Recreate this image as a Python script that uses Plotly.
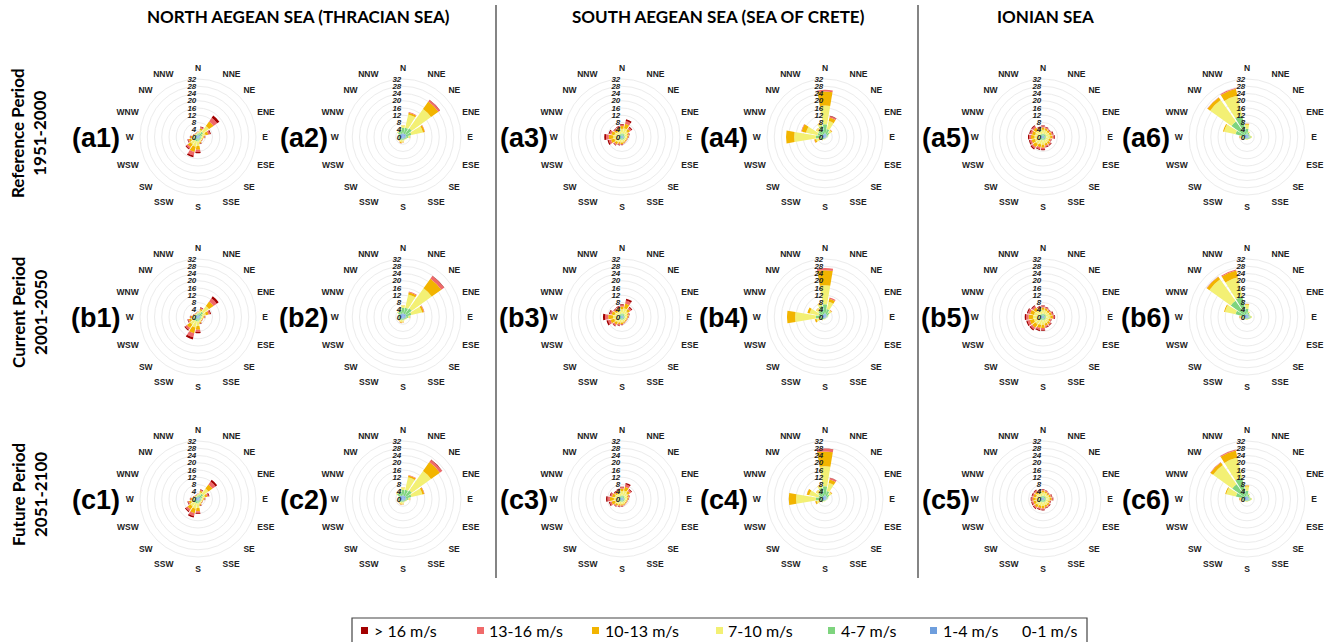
import plotly.graph_objects as go

# ---------------- data ----------------
directions = ["N", "NNE", "NE", "ENE", "E", "ESE", "SE", "SSE",
              "S", "SSW", "SW", "WSW", "W", "WNW", "NW", "NNW"]
speed_classes = ["1-4 m/s", "4-7 m/s", "7-10 m/s", "10-13 m/s", "13-16 m/s", "> 16 m/s"]
class_colors = ["#6e9edd", "#7ed47e", "#f3f074", "#f2b400", "#f06a6a", "#a30000"]
radial_ticks = [0, 4, 8, 12, 16, 20, 24, 28, 32]
regions = ["NORTH AEGEAN SEA (THRACIAN SEA)", "SOUTH AEGEAN SEA (SEA OF CRETE)", "IONIAN SEA"]
periods = ["Reference Period<br>1951-2000", "Current Period<br>2001-2050", "Future Period<br>2051-2100"]
legend_labels = ["> 16 m/s", "13-16 m/s", "10-13 m/s", "7-10 m/s", "4-7 m/s", "1-4 m/s", "0-1 m/s"]
legend_colors = ["#a30000", "#f06a6a", "#f2b400", "#f3f074", "#7ed47e", "#6e9edd", None]

# frequency (%) per direction (rows N..NNW), columns: 1-4, 4-7, 7-10, 10-13, 13-16, >16 m/s
a1 = [[1.0, 1.0, 0.6, 0.2, 0.1, 0.1], [1.0, 1.2, 1.8, 1.0, 0.6, 0.4], [1.5, 2.0, 4.0, 3.0, 2.5, 1.5],
      [1.0, 1.3, 2.0, 1.5, 1.0, 0.5], [1.0, 1.0, 1.0, 0.5, 0.3, 0.2], [0.9, 0.9, 0.7, 0.3, 0.1, 0.1],
      [0.9, 0.9, 0.7, 0.3, 0.1, 0.1], [1.0, 1.0, 1.0, 0.5, 0.3, 0.2], [1.0, 1.5, 2.5, 2.0, 1.3, 0.7],
      [1.0, 1.5, 3.0, 3.0, 2.0, 1.0], [1.0, 1.5, 2.5, 2.0, 1.0, 0.5], [1.0, 1.2, 1.8, 1.2, 0.5, 0.3],
      [1.0, 1.0, 1.2, 0.7, 0.4, 0.2], [0.9, 0.9, 0.7, 0.3, 0.1, 0.1], [0.8, 0.8, 0.5, 0.2, 0.1, 0.1],
      [0.8, 0.8, 0.5, 0.2, 0.1, 0.1]]
a2 = [[2.0, 3.0, 1.2, 0.2, 0.0, 0.0], [1.8, 3.5, 7.5, 1.0, 0.3, 0.0], [2.0, 4.0, 13.0, 5.0, 1.0, 0.2],
      [1.8, 3.0, 6.5, 1.0, 0.2, 0.0], [1.5, 1.5, 0.8, 0.2, 0.0, 0.0], [1.2, 0.8, 0.3, 0.0, 0.0, 0.0],
      [1.0, 0.6, 0.2, 0.0, 0.0, 0.0], [1.0, 0.6, 0.3, 0.1, 0.0, 0.0], [1.0, 0.8, 0.8, 0.4, 0.1, 0.0],
      [1.0, 0.8, 1.2, 0.6, 0.2, 0.0], [1.2, 0.8, 0.8, 0.3, 0.1, 0.0], [1.2, 0.8, 0.4, 0.1, 0.0, 0.0],
      [1.5, 0.8, 0.3, 0.0, 0.0, 0.0], [1.5, 1.0, 0.3, 0.0, 0.0, 0.0], [2.0, 1.5, 0.5, 0.1, 0.0, 0.0],
      [2.0, 2.0, 0.8, 0.1, 0.0, 0.0]]
a3 = [[0.8, 1.2, 2.5, 1.5, 0.8, 0.4], [0.8, 1.2, 3.0, 2.5, 1.5, 1.0], [0.8, 1.0, 2.2, 1.5, 1.0, 0.5],
      [0.8, 0.8, 1.5, 0.8, 0.4, 0.2], [0.8, 0.8, 1.2, 0.6, 0.3, 0.1], [0.8, 0.8, 1.0, 0.4, 0.2, 0.1],
      [0.8, 0.8, 1.0, 0.5, 0.2, 0.1], [0.8, 0.8, 1.2, 0.6, 0.3, 0.1], [0.8, 0.8, 1.5, 0.8, 0.4, 0.2],
      [0.8, 0.8, 1.5, 1.0, 0.5, 0.2], [0.8, 1.0, 2.0, 1.2, 0.6, 0.3], [0.8, 1.0, 2.5, 2.0, 1.2, 0.7],
      [0.8, 1.0, 3.0, 2.5, 1.5, 1.0], [0.8, 1.0, 2.5, 1.8, 1.0, 0.5], [0.8, 1.0, 2.0, 1.2, 0.6, 0.3],
      [0.8, 1.0, 2.0, 1.3, 0.7, 0.4]]
a4 = [[2.0, 5.0, 10.4, 7.7, 0.9, 0.0], [1.5, 3.0, 4.5, 2.0, 0.8, 0.2], [1.2, 1.8, 1.5, 0.4, 0.1, 0.0],
      [1.0, 0.8, 0.3, 0.0, 0.0, 0.0], [0.8, 0.5, 0.2, 0.0, 0.0, 0.0], [0.6, 0.3, 0.1, 0.0, 0.0, 0.0],
      [0.6, 0.3, 0.1, 0.0, 0.0, 0.0], [0.6, 0.3, 0.1, 0.0, 0.0, 0.0], [0.6, 0.4, 0.2, 0.0, 0.0, 0.0],
      [0.6, 0.5, 0.3, 0.1, 0.0, 0.0], [0.8, 0.8, 0.6, 0.2, 0.0, 0.0], [1.0, 1.5, 2.5, 1.0, 0.2, 0.0],
      [1.5, 3.5, 12.0, 4.5, 0.0, 0.0], [1.2, 3.0, 6.5, 2.5, 0.3, 0.0], [1.5, 3.0, 1.5, 0.2, 0.0, 0.0],
      [1.8, 4.5, 1.5, 0.2, 0.0, 0.0]]
a5 = [[0.8, 1.0, 2.2, 1.3, 0.7, 0.4], [0.8, 1.0, 2.0, 1.1, 0.6, 0.3], [0.8, 0.9, 1.8, 1.0, 0.5, 0.3],
      [0.8, 1.0, 2.0, 1.2, 0.6, 0.4], [0.8, 1.0, 2.2, 1.3, 0.8, 0.4], [0.8, 0.9, 1.7, 0.9, 0.5, 0.2],
      [0.8, 1.0, 2.0, 1.1, 0.6, 0.4], [0.8, 1.0, 2.0, 1.1, 0.7, 0.4], [0.8, 1.0, 2.5, 1.6, 0.9, 0.5],
      [0.8, 1.0, 2.5, 1.6, 1.0, 0.5], [0.8, 1.1, 3.0, 2.0, 1.0, 0.6], [0.8, 1.0, 2.8, 1.9, 1.0, 0.5],
      [0.8, 1.1, 2.8, 2.0, 1.0, 0.6], [0.8, 1.0, 2.7, 1.8, 1.0, 0.5], [0.8, 1.0, 2.8, 1.9, 1.0, 0.5],
      [0.8, 1.0, 2.0, 1.2, 0.6, 0.4]]
a6 = [[1.5, 3.0, 2.3, 0.5, 0.1, 0.0], [1.2, 1.2, 0.6, 0.1, 0.0, 0.0], [1.0, 0.8, 0.3, 0.0, 0.0, 0.0],
      [1.0, 0.7, 0.3, 0.0, 0.0, 0.0], [1.2, 1.0, 0.5, 0.1, 0.0, 0.0], [1.0, 0.8, 0.3, 0.0, 0.0, 0.0],
      [0.8, 0.6, 0.2, 0.0, 0.0, 0.0], [0.8, 0.5, 0.2, 0.0, 0.0, 0.0], [0.8, 0.5, 0.3, 0.1, 0.0, 0.0],
      [0.8, 0.5, 0.3, 0.1, 0.0, 0.0], [0.8, 0.6, 0.3, 0.1, 0.0, 0.0], [1.0, 0.8, 0.5, 0.2, 0.0, 0.0],
      [1.0, 1.5, 1.2, 0.4, 0.1, 0.0], [1.5, 5.0, 6.5, 0.6, 0.0, 0.0], [1.5, 9.0, 14.5, 1.8, 0.2, 0.0],
      [1.5, 10.5, 11.5, 3.8, 0.5, 0.0]]

b1 = [[1.0, 1.0, 0.6, 0.2, 0.1, 0.1], [1.0, 1.2, 1.6, 0.9, 0.5, 0.3], [1.5, 2.0, 4.0, 3.0, 2.2, 1.3],
      [1.0, 1.3, 2.2, 1.5, 0.9, 0.5], [1.0, 1.0, 1.0, 0.5, 0.3, 0.2], [0.9, 0.9, 0.7, 0.3, 0.1, 0.1],
      [0.9, 0.9, 0.7, 0.3, 0.1, 0.1], [1.0, 1.0, 1.0, 0.5, 0.3, 0.2], [1.0, 1.5, 2.5, 2.0, 1.3, 0.7],
      [1.0, 1.5, 3.5, 3.2, 2.3, 1.2], [1.0, 1.5, 2.8, 2.2, 1.2, 0.6], [1.0, 1.2, 1.8, 1.2, 0.5, 0.3],
      [1.0, 1.0, 1.2, 0.7, 0.4, 0.2], [0.9, 0.9, 0.7, 0.3, 0.1, 0.1], [0.8, 0.8, 0.5, 0.2, 0.1, 0.1],
      [0.8, 0.8, 0.5, 0.2, 0.1, 0.1]]
b2 = [[2.0, 3.0, 1.2, 0.2, 0.0, 0.0], [1.8, 3.5, 7.5, 1.2, 0.4, 0.0], [2.0, 4.0, 13.5, 6.5, 1.8, 0.2],
      [1.8, 3.0, 6.0, 1.0, 0.3, 0.0], [1.5, 1.5, 0.8, 0.2, 0.0, 0.0], [1.2, 0.8, 0.3, 0.0, 0.0, 0.0],
      [1.0, 0.6, 0.2, 0.0, 0.0, 0.0], [1.0, 0.6, 0.3, 0.1, 0.0, 0.0], [1.0, 0.8, 0.8, 0.4, 0.1, 0.0],
      [1.0, 0.8, 1.1, 0.5, 0.2, 0.0], [1.2, 0.8, 0.8, 0.3, 0.1, 0.0], [1.2, 0.8, 0.4, 0.1, 0.0, 0.0],
      [1.5, 0.8, 0.3, 0.0, 0.0, 0.0], [1.5, 1.0, 0.3, 0.0, 0.0, 0.0], [2.0, 1.5, 0.5, 0.1, 0.0, 0.0],
      [2.0, 2.0, 0.8, 0.1, 0.0, 0.0]]
b3 = [[0.8, 1.2, 2.4, 1.4, 0.8, 0.4], [0.8, 1.2, 3.0, 2.6, 1.7, 1.1], [0.8, 1.0, 2.2, 1.5, 1.0, 0.5],
      [0.8, 0.8, 1.5, 0.8, 0.4, 0.2], [0.8, 0.8, 1.2, 0.6, 0.3, 0.1], [0.8, 0.8, 1.0, 0.4, 0.2, 0.1],
      [0.8, 0.8, 1.0, 0.5, 0.2, 0.1], [0.8, 0.8, 1.2, 0.6, 0.3, 0.1], [0.8, 0.8, 1.5, 0.8, 0.4, 0.2],
      [0.8, 0.8, 1.6, 1.1, 0.6, 0.3], [0.8, 1.0, 2.1, 1.4, 0.8, 0.4], [0.8, 1.0, 2.6, 2.1, 1.4, 0.9],
      [0.8, 1.0, 3.1, 2.7, 1.7, 1.2], [0.8, 1.0, 2.4, 1.7, 1.0, 0.5], [0.8, 1.0, 2.0, 1.2, 0.6, 0.3],
      [0.8, 1.0, 2.0, 1.3, 0.7, 0.4]]
b4 = [[2.0, 5.0, 10.5, 8.3, 1.2, 0.0], [1.5, 3.0, 4.2, 1.7, 0.6, 0.0], [1.2, 1.8, 1.4, 0.4, 0.1, 0.0],
      [1.0, 0.8, 0.3, 0.0, 0.0, 0.0], [0.8, 0.5, 0.2, 0.0, 0.0, 0.0], [0.6, 0.3, 0.1, 0.0, 0.0, 0.0],
      [0.6, 0.3, 0.1, 0.0, 0.0, 0.0], [0.6, 0.3, 0.1, 0.0, 0.0, 0.0], [0.6, 0.4, 0.2, 0.0, 0.0, 0.0],
      [0.6, 0.5, 0.3, 0.1, 0.0, 0.0], [0.8, 0.8, 0.6, 0.2, 0.0, 0.0], [1.0, 1.5, 2.3, 0.9, 0.1, 0.0],
      [1.5, 3.5, 11.5, 4.5, 0.0, 0.0], [1.2, 2.5, 5.0, 1.3, 0.0, 0.0], [1.5, 3.0, 1.5, 0.2, 0.0, 0.0],
      [1.8, 4.5, 1.5, 0.2, 0.0, 0.0]]
b5 = [[0.8, 1.0, 2.2, 1.3, 0.7, 0.4], [0.8, 1.0, 2.0, 1.1, 0.6, 0.3], [0.8, 0.9, 1.8, 1.0, 0.5, 0.3],
      [0.8, 1.0, 2.0, 1.2, 0.6, 0.4], [0.8, 1.0, 2.3, 1.4, 0.8, 0.4], [0.8, 0.9, 1.7, 0.9, 0.5, 0.2],
      [0.8, 1.0, 2.0, 1.1, 0.6, 0.4], [0.8, 1.0, 2.0, 1.2, 0.7, 0.4], [0.8, 1.0, 2.6, 1.7, 1.0, 0.5],
      [0.8, 1.0, 2.7, 1.8, 1.1, 0.6], [0.8, 1.1, 3.2, 2.2, 1.2, 0.7], [0.8, 1.1, 3.3, 2.3, 1.3, 0.7],
      [0.8, 1.2, 3.5, 2.5, 1.3, 0.8], [0.8, 1.1, 3.2, 2.2, 1.2, 0.6], [0.8, 1.0, 2.8, 1.9, 1.0, 0.5],
      [0.8, 1.0, 2.1, 1.2, 0.7, 0.4]]
b6 = [[1.5, 3.0, 2.2, 0.5, 0.1, 0.0], [1.2, 1.2, 0.6, 0.1, 0.0, 0.0], [1.0, 0.8, 0.3, 0.0, 0.0, 0.0],
      [1.0, 0.7, 0.3, 0.0, 0.0, 0.0], [1.2, 1.0, 0.5, 0.1, 0.0, 0.0], [1.0, 0.8, 0.3, 0.0, 0.0, 0.0],
      [0.8, 0.6, 0.2, 0.0, 0.0, 0.0], [0.8, 0.5, 0.2, 0.0, 0.0, 0.0], [0.8, 0.5, 0.3, 0.1, 0.0, 0.0],
      [0.8, 0.5, 0.3, 0.1, 0.0, 0.0], [0.8, 0.6, 0.3, 0.1, 0.0, 0.0], [1.0, 0.8, 0.5, 0.2, 0.0, 0.0],
      [1.0, 1.5, 1.2, 0.4, 0.1, 0.0], [1.5, 5.0, 6.0, 0.5, 0.0, 0.0], [1.5, 9.5, 14.5, 1.8, 0.2, 0.0],
      [1.5, 10.0, 11.0, 3.8, 0.6, 0.0]]

c1 = [[1.0, 1.0, 0.6, 0.2, 0.1, 0.1], [1.0, 1.2, 1.6, 0.9, 0.5, 0.3], [1.5, 2.0, 3.6, 2.8, 2.0, 1.1],
      [1.0, 1.3, 1.8, 1.2, 0.8, 0.4], [1.0, 1.0, 1.0, 0.5, 0.3, 0.2], [0.9, 0.9, 0.7, 0.3, 0.1, 0.1],
      [0.9, 0.9, 0.7, 0.3, 0.1, 0.1], [1.0, 1.0, 1.0, 0.5, 0.3, 0.2], [1.0, 1.5, 2.5, 1.8, 1.0, 0.5],
      [1.0, 1.5, 3.0, 2.6, 1.6, 0.8], [1.0, 1.5, 2.6, 2.0, 1.2, 0.6], [1.0, 1.2, 1.8, 1.2, 0.5, 0.3],
      [1.0, 1.0, 1.2, 0.7, 0.4, 0.2], [0.9, 0.9, 0.7, 0.3, 0.1, 0.1], [0.8, 0.8, 0.5, 0.2, 0.1, 0.1],
      [0.8, 0.8, 0.5, 0.2, 0.1, 0.1]]
c2 = [[2.0, 3.0, 1.2, 0.2, 0.0, 0.0], [1.8, 3.5, 7.0, 1.0, 0.3, 0.0], [2.0, 4.0, 13.0, 6.0, 1.5, 0.2],
      [1.8, 3.0, 6.2, 1.0, 0.2, 0.0], [1.5, 1.5, 0.8, 0.2, 0.0, 0.0], [1.2, 0.8, 0.3, 0.0, 0.0, 0.0],
      [1.0, 0.6, 0.2, 0.0, 0.0, 0.0], [1.0, 0.6, 0.3, 0.1, 0.0, 0.0], [1.0, 0.8, 0.8, 0.4, 0.1, 0.0],
      [1.0, 0.8, 1.0, 0.5, 0.1, 0.0], [1.2, 0.8, 0.8, 0.3, 0.1, 0.0], [1.2, 0.8, 0.4, 0.1, 0.0, 0.0],
      [1.5, 0.8, 0.3, 0.0, 0.0, 0.0], [1.5, 1.0, 0.3, 0.0, 0.0, 0.0], [2.2, 1.8, 0.6, 0.1, 0.0, 0.0],
      [2.0, 2.0, 0.8, 0.1, 0.0, 0.0]]
c3 = [[0.8, 1.2, 2.4, 1.4, 0.7, 0.3], [0.8, 1.2, 2.8, 2.2, 1.3, 0.8], [0.8, 1.0, 2.2, 1.5, 0.9, 0.4],
      [0.8, 0.8, 1.5, 0.8, 0.4, 0.2], [0.8, 0.8, 1.2, 0.6, 0.3, 0.1], [0.8, 0.8, 1.0, 0.4, 0.2, 0.1],
      [0.8, 0.8, 1.0, 0.5, 0.2, 0.1], [0.8, 0.8, 1.2, 0.6, 0.3, 0.1], [0.8, 0.8, 1.4, 0.7, 0.4, 0.2],
      [0.8, 0.8, 1.5, 0.9, 0.5, 0.2], [0.8, 1.0, 1.9, 1.1, 0.5, 0.2], [0.8, 1.0, 2.3, 1.8, 1.0, 0.5],
      [0.8, 1.0, 2.7, 2.2, 1.3, 0.8], [0.8, 1.0, 2.3, 1.6, 0.9, 0.4], [0.8, 1.0, 1.9, 1.1, 0.5, 0.3],
      [0.8, 1.0, 2.0, 1.2, 0.6, 0.3]]
c4 = [[2.0, 5.0, 11.0, 8.2, 1.5, 0.1], [1.5, 3.0, 4.6, 2.0, 0.8, 0.1], [1.2, 1.8, 1.5, 0.4, 0.1, 0.0],
      [1.0, 0.8, 0.3, 0.0, 0.0, 0.0], [0.8, 0.5, 0.2, 0.0, 0.0, 0.0], [0.6, 0.3, 0.1, 0.0, 0.0, 0.0],
      [0.6, 0.3, 0.1, 0.0, 0.0, 0.0], [0.6, 0.3, 0.1, 0.0, 0.0, 0.0], [0.6, 0.4, 0.2, 0.0, 0.0, 0.0],
      [0.6, 0.5, 0.3, 0.1, 0.0, 0.0], [0.8, 0.8, 0.6, 0.2, 0.0, 0.0], [1.0, 1.5, 2.2, 0.8, 0.1, 0.0],
      [1.5, 3.5, 11.0, 4.0, 0.0, 0.0], [1.2, 2.5, 5.2, 1.4, 0.1, 0.0], [1.5, 3.0, 1.5, 0.2, 0.0, 0.0],
      [1.8, 4.5, 1.6, 0.2, 0.0, 0.0]]
c5 = [[0.8, 1.0, 1.9, 1.0, 0.5, 0.3], [0.8, 1.0, 1.7, 0.9, 0.5, 0.2], [0.8, 0.9, 1.5, 0.8, 0.4, 0.2],
      [0.8, 1.0, 1.7, 1.0, 0.5, 0.3], [0.8, 1.0, 1.9, 1.1, 0.6, 0.3], [0.8, 0.9, 1.5, 0.8, 0.4, 0.2],
      [0.8, 1.0, 1.7, 0.9, 0.5, 0.3], [0.8, 1.0, 1.8, 1.0, 0.5, 0.3], [0.8, 1.0, 2.1, 1.3, 0.7, 0.4],
      [0.8, 1.0, 2.1, 1.3, 0.7, 0.4], [0.8, 1.0, 2.4, 1.5, 0.8, 0.4], [0.8, 1.0, 2.3, 1.4, 0.8, 0.4],
      [0.8, 1.0, 2.3, 1.5, 0.8, 0.4], [0.8, 1.0, 2.2, 1.4, 0.7, 0.4], [0.8, 1.0, 2.2, 1.4, 0.7, 0.4],
      [0.8, 1.0, 1.8, 1.0, 0.5, 0.3]]
c6 = [[1.5, 3.0, 2.4, 0.6, 0.1, 0.0], [1.2, 1.2, 0.6, 0.1, 0.0, 0.0], [1.0, 0.8, 0.3, 0.0, 0.0, 0.0],
      [1.0, 0.7, 0.3, 0.0, 0.0, 0.0], [1.2, 1.0, 0.5, 0.1, 0.0, 0.0], [1.0, 0.8, 0.3, 0.0, 0.0, 0.0],
      [0.8, 0.6, 0.2, 0.0, 0.0, 0.0], [0.8, 0.5, 0.2, 0.0, 0.0, 0.0], [0.8, 0.5, 0.3, 0.1, 0.0, 0.0],
      [0.8, 0.5, 0.3, 0.1, 0.0, 0.0], [0.8, 0.6, 0.3, 0.1, 0.0, 0.0], [1.0, 0.8, 0.5, 0.2, 0.0, 0.0],
      [1.0, 1.5, 1.3, 0.4, 0.1, 0.0], [1.5, 4.8, 5.5, 0.5, 0.0, 0.0], [1.5, 8.5, 13.0, 1.8, 0.2, 0.0],
      [1.5, 10.5, 11.5, 4.0, 0.5, 0.0]]

rose_grid = [[a1, a2, a3, a4, a5, a6], [b1, b2, b3, b4, b5, b6], [c1, c2, c3, c4, c5, c6]]
panel_names = [["(a1)", "(a2)", "(a3)", "(a4)", "(a5)", "(a6)"],
               ["(b1)", "(b2)", "(b3)", "(b4)", "(b5)", "(b6)"],
               ["(c1)", "(c2)", "(c3)", "(c4)", "(c5)", "(c6)"]]

# ---------------- layout geometry (pixels) ----------------
W, H = 1337, 642
col_cx = [198, 403, 622, 825, 1043, 1247]
row_cy = [137, 317, 499]
R = 58
label_cx = [96, 304, 524, 724, 946, 1146]
title_cx = [298, 718, 1045]
sep_x = [496, 918]

def px(x):
    return x / W

def py(y):
    return 1 - y / H

theta = [i * 360 / len(directions) for i in range(len(directions))]

fig = go.Figure()
layout_polars = {}
annotations = []
shapes = []

for ri in range(3):
    for ci in range(6):
        idx = ri * 6 + ci + 1
        key = "polar" if idx == 1 else f"polar{idx}"
        rose = rose_grid[ri][ci]
        for k, cls in enumerate(speed_classes):
            fig.add_trace(go.Barpolar(
                r=[row[k] for row in rose], theta=theta, width=19,
                name=cls, marker_color=class_colors[k], marker_line_width=0,
                subplot=key, showlegend=False, hoverinfo="skip"))
        cx, cy = col_cx[ci], row_cy[ri]
        layout_polars[key] = dict(
            domain=dict(x=[px(cx - R), px(cx + R)], y=[py(cy + R), py(cy - R)]),
            bgcolor="white", barmode="stack", bargap=0,
            radialaxis=dict(range=[0, 32], tickvals=radial_ticks, angle=90, side="counterclockwise",
                            tickangle=90, showline=False, ticks="", gridcolor="#ececec", gridwidth=1,
                            tickfont=dict(family="Arial", size=8, color="#222", weight="bold", style="italic")),
            angularaxis=dict(rotation=90, direction="clockwise", tickvals=theta, ticktext=directions,
                             showgrid=False, showline=True, linecolor="#ececec", linewidth=1,
                             ticks="outside", ticklen=4, tickcolor="rgba(0,0,0,0)",
                             tickfont=dict(family="Arial", size=8.5, color="#222", weight="bold")),
        )
        annotations.append(dict(x=px(label_cx[ci]), y=py(row_cy[ri] + 1), xref="paper", yref="paper",
                                text=panel_names[ri][ci], showarrow=False, xanchor="center", yanchor="middle",
                                font=dict(family="Arial", size=27, color="black", weight="bold")))

for i, t in enumerate(regions):
    annotations.append(dict(x=px(title_cx[i]), y=py(17), xref="paper", yref="paper", text=t, showarrow=False,
                            xanchor="center", yanchor="middle",
                            font=dict(family="Lato", size=17, color="black", weight="bold")))
for i, t in enumerate(periods):
    annotations.append(dict(x=px(29), y=py(row_cy[i] - 4), xref="paper", yref="paper", text=t, showarrow=False,
                            xanchor="center", yanchor="middle", textangle=-90,
                            font=dict(family="Lato", size=17, color="black", weight="bold")))

for x in sep_x:
    shapes.append(dict(type="line", xref="paper", yref="paper", x0=px(x), x1=px(x), y0=py(5), y1=py(578),
                       line=dict(color="#333", width=1.2)))

# legend box
shapes.append(dict(type="rect", xref="paper", yref="paper", x0=px(352), x1=px(1087), y0=py(646), y1=py(618),
                   line=dict(color="#444", width=1.2), fillcolor="white"))
leg_sq_x = [361, 477, 592, 716, 828, 930, None]
leg_txt_x = [372, 487, 603, 726, 839, 941, 1020]
for i, lab in enumerate(legend_labels):
    if legend_colors[i] is not None:
        shapes.append(dict(type="rect", xref="paper", yref="paper", x0=px(leg_sq_x[i]), x1=px(leg_sq_x[i] + 7),
                           y0=py(634), y1=py(627), line=dict(width=0), fillcolor=legend_colors[i]))
    annotations.append(dict(x=px(leg_txt_x[i]), y=py(630), xref="paper", yref="paper", text=lab, showarrow=False,
                            xanchor="left", yanchor="middle",
                            font=dict(family="Lato", size=16, color="black")))

fig.update_layout(width=W, height=H, margin=dict(l=0, r=0, t=0, b=0), paper_bgcolor="white",
                  plot_bgcolor="white", showlegend=False, annotations=annotations, shapes=shapes,
                  **layout_polars)

fig.write_html("out.html")
